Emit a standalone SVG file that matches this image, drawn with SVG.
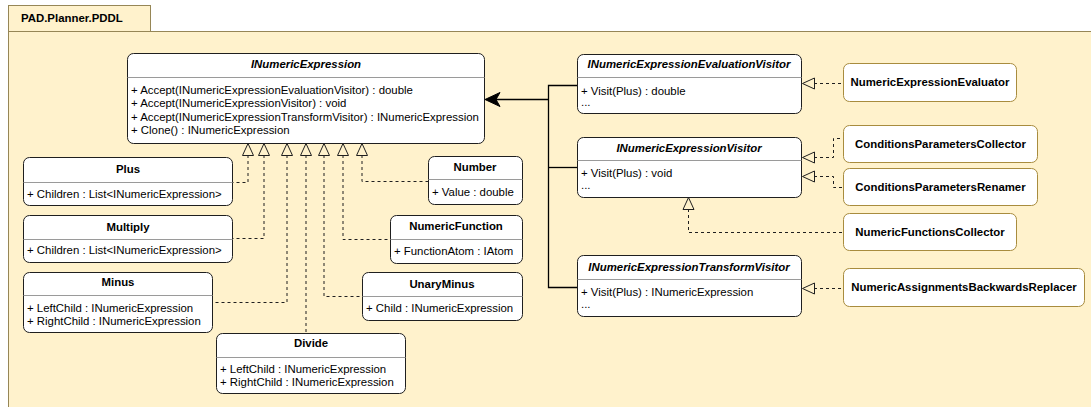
<svg xmlns="http://www.w3.org/2000/svg" width="1091" height="407" viewBox="0 0 1091 407">
  <style>
    text { font-family: "Liberation Sans", Arial, sans-serif; font-size: 11.4px; fill: #000; }
    .title { font-weight: bold; text-anchor: middle; }
    .iface { font-weight: bold; font-style: italic; text-anchor: middle; }
    .cls { fill: #fff; stroke: #1f1f1f; stroke-width: 1; }
    .impl { fill: #fff; stroke: #a88c3e; stroke-width: 1; }
    .div { stroke: #9a9a9a; stroke-width: 1; }
    .dash { fill: none; stroke: #1f1f1f; stroke-width: 1; stroke-dasharray: 3 3; }
    .solid { fill: none; stroke: #000; stroke-width: 1.3; }
    .tri { fill: none; stroke: #1f1f1f; stroke-width: 1; stroke-linejoin: miter; }
  </style>

  <!-- package frame -->
  <g id="package">
    <rect x="8.5" y="31.5" width="1090" height="380" fill="#fff2cc" stroke="#968656"/>
    <rect x="8.5" y="5.5" width="142" height="26" fill="#fff2cc" stroke="#968656"/>
    <text x="21" y="22" style="font-weight:bold">PAD.Planner.PDDL</text>
  </g>

  <!-- connectors -->
  <g id="connectors">
    <!-- realizations of INumericExpression -->
    <path class="dash" d="M248 155 V182.5 H232"/>
    <path class="dash" d="M264 155 V238.5 H232"/>
    <path class="dash" d="M287 155 V302.5 H212"/>
    <path class="dash" d="M306 155 V333"/>
    <path class="dash" d="M324 155 V296.5 H362"/>
    <path class="dash" d="M343 155 V239.5 H390"/>
    <path class="dash" d="M362 155 V181.5 H428"/>
    <g class="tri">
      <path d="M248 143.5 L242.5 155.5 L253.5 155.5 Z"/>
      <path d="M264 143.5 L258.5 155.5 L269.5 155.5 Z"/>
      <path d="M287 143.5 L281.5 155.5 L292.5 155.5 Z"/>
      <path d="M306 143.5 L300.5 155.5 L311.5 155.5 Z"/>
      <path d="M324 143.5 L318.5 155.5 L329.5 155.5 Z"/>
      <path d="M343 143.5 L337.5 155.5 L348.5 155.5 Z"/>
      <path d="M362 143.5 L356.5 155.5 L367.5 155.5 Z"/>
    </g>

    <!-- visitor dependencies -->
    <path class="solid" d="M577 85.5 H548.5 V287.5 H577"/>
    <path class="solid" d="M548.5 167.5 H577"/>
    <path class="solid" d="M548.5 99.5 H494"/>
    <path d="M485 99.5 L500 92.5 L496 99.5 L500 106.5 Z" fill="#000" stroke="#000" stroke-width="1"/>

    <!-- realizations of visitor interfaces -->
    <path class="dash" d="M814 83.5 H843"/>
    <path class="dash" d="M814 157.5 H833.5 V138.5 H843"/>
    <path class="dash" d="M814 176.5 H833.5 V187.5 H843"/>
    <path class="dash" d="M688.5 209 V232.5 H843"/>
    <path class="dash" d="M814 288.5 H843"/>
    <g class="tri">
      <path d="M802.5 83.5 L814.5 78 L814.5 89 Z"/>
      <path d="M802.5 157.5 L814.5 152 L814.5 163 Z"/>
      <path d="M802.5 176.5 L814.5 171 L814.5 182 Z"/>
      <path d="M688.5 197.5 L683 209.5 L694 209.5 Z"/>
      <path d="M802.5 288.5 L814.5 283 L814.5 294 Z"/>
    </g>
  </g>

  <!-- INumericExpression interface -->
  <g id="INumericExpression">
    <rect class="cls" x="127.5" y="53.5" width="357" height="90" rx="6"/>
    <line class="div" x1="127.5" y1="77.5" x2="484.5" y2="77.5"/>
    <text class="iface" x="306" y="68">INumericExpression</text>
    <text x="131" y="94">+ Accept(INumericExpressionEvaluationVisitor) : double</text>
    <text x="131" y="107.3">+ Accept(INumericExpressionVisitor) : void</text>
    <text x="131" y="120.6">+ Accept(INumericExpressionTransformVisitor) : INumericExpression</text>
    <text x="131" y="133.6">+ Clone() : INumericExpression</text>
  </g>

  <g id="Plus">
    <rect class="cls" x="23.5" y="157.5" width="209" height="48" rx="6"/>
    <line class="div" x1="23.5" y1="182.5" x2="232.5" y2="182.5"/>
    <text class="title" x="128" y="173">Plus</text>
    <text x="27" y="198">+ Children : List&lt;INumericExpression&gt;</text>
  </g>

  <g id="Multiply">
    <rect class="cls" x="23.5" y="215.5" width="209" height="47" rx="6"/>
    <line class="div" x1="23.5" y1="239.5" x2="232.5" y2="239.5"/>
    <text class="title" x="128" y="231">Multiply</text>
    <text x="27" y="254">+ Children : List&lt;INumericExpression&gt;</text>
  </g>

  <g id="Minus">
    <rect class="cls" x="23.5" y="272.5" width="189" height="60" rx="6"/>
    <line class="div" x1="23.5" y1="295.5" x2="212.5" y2="295.5"/>
    <text class="title" x="118" y="286">Minus</text>
    <text x="27" y="312">+ LeftChild : INumericExpression</text>
    <text x="27" y="325">+ RightChild : INumericExpression</text>
  </g>

  <g id="Divide">
    <rect class="cls" x="216.5" y="333.5" width="189" height="60" rx="6"/>
    <line class="div" x1="216.5" y1="357.5" x2="405.5" y2="357.5"/>
    <text class="title" x="311" y="347">Divide</text>
    <text x="220" y="373">+ LeftChild : INumericExpression</text>
    <text x="220" y="386">+ RightChild : INumericExpression</text>
  </g>

  <g id="Number">
    <rect class="cls" x="428.5" y="156.5" width="94" height="48" rx="6"/>
    <line class="div" x1="428.5" y1="179.5" x2="522.5" y2="179.5"/>
    <text class="title" x="475" y="171">Number</text>
    <text x="432" y="196">+ Value : double</text>
  </g>

  <g id="NumericFunction">
    <rect class="cls" x="390.5" y="215.5" width="132" height="48" rx="6"/>
    <line class="div" x1="390.5" y1="239.5" x2="522.5" y2="239.5"/>
    <text class="title" x="456" y="230">NumericFunction</text>
    <text x="394" y="255">+ FunctionAtom : IAtom</text>
  </g>

  <g id="UnaryMinus">
    <rect class="cls" x="362.5" y="272.5" width="160" height="48" rx="6"/>
    <line class="div" x1="362.5" y1="296.5" x2="522.5" y2="296.5"/>
    <text class="title" x="442" y="288">UnaryMinus</text>
    <text x="366" y="312">+ Child : INumericExpression</text>
  </g>

  <!-- visitor interfaces -->
  <g id="INumericExpressionEvaluationVisitor">
    <rect class="cls" x="577.5" y="54.5" width="224" height="59" rx="6"/>
    <line class="div" x1="577.5" y1="77.5" x2="801.5" y2="77.5"/>
    <text class="iface" x="689" y="68">INumericExpressionEvaluationVisitor</text>
    <text x="581" y="95">+ Visit(Plus) : double</text>
    <text x="581" y="106">...</text>
  </g>

  <g id="INumericExpressionVisitor">
    <rect class="cls" x="577.5" y="137.5" width="224" height="60" rx="6"/>
    <line class="div" x1="577.5" y1="160.5" x2="801.5" y2="160.5"/>
    <text class="iface" x="689" y="152">INumericExpressionVisitor</text>
    <text x="581" y="177">+ Visit(Plus) : void</text>
    <text x="581" y="189">...</text>
  </g>

  <g id="INumericExpressionTransformVisitor">
    <rect class="cls" x="577.5" y="255.5" width="224" height="61" rx="6"/>
    <line class="div" x1="577.5" y1="279.5" x2="801.5" y2="279.5"/>
    <text class="iface" x="689" y="271">INumericExpressionTransformVisitor</text>
    <text x="581" y="296">+ Visit(Plus) : INumericExpression</text>
    <text x="581" y="308">...</text>
  </g>

  <!-- implementations -->
  <g id="NumericExpressionEvaluator">
    <rect class="impl" x="843.5" y="63.5" width="173" height="38" rx="6"/>
    <text class="title" x="930" y="86">NumericExpressionEvaluator</text>
  </g>

  <g id="ConditionsParametersCollector">
    <rect class="impl" x="843.5" y="125.5" width="194" height="37" rx="6"/>
    <text class="title" x="940.5" y="148">ConditionsParametersCollector</text>
  </g>

  <g id="ConditionsParametersRenamer">
    <rect class="impl" x="843.5" y="168.5" width="194" height="37" rx="6"/>
    <text class="title" x="940.5" y="191">ConditionsParametersRenamer</text>
  </g>

  <g id="NumericFunctionsCollector">
    <rect class="impl" x="843.5" y="213.5" width="173" height="37" rx="6"/>
    <text class="title" x="930" y="236">NumericFunctionsCollector</text>
  </g>

  <g id="NumericAssignmentsBackwardsReplacer">
    <rect class="impl" x="843.5" y="268.5" width="241" height="38" rx="6"/>
    <text class="title" x="964" y="291">NumericAssignmentsBackwardsReplacer</text>
  </g>
</svg>
